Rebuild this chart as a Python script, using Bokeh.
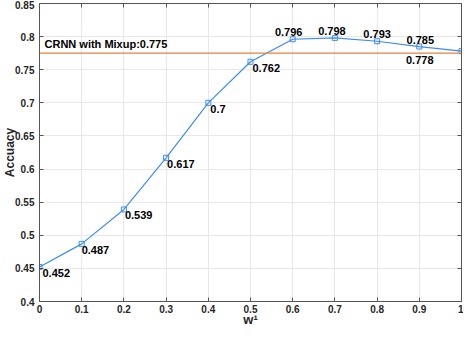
from bokeh.plotting import figure
from bokeh.models import (ColumnDataSource, LinearAxis, Range1d, FixedTicker, Span, Label,
                          CustomJSTickFormatter)
from bokeh.embed import file_html
from bokeh.resources import INLINE
from bokeh.core.properties import value

# ---- data ----
w_values = [0.0, 0.1, 0.2, 0.3, 0.4, 0.5, 0.6, 0.7, 0.8, 0.9, 1.0]
accuracy = [0.452, 0.487, 0.539, 0.617, 0.7, 0.762, 0.796, 0.798, 0.793, 0.785, 0.778]
baseline_value = 0.775
baseline_name = "CRNN with Mixup"
x_ticks = [0, 0.1, 0.2, 0.3, 0.4, 0.5, 0.6, 0.7, 0.8, 0.9, 1]
y_ticks = [0.4, 0.45, 0.5, 0.55, 0.6, 0.65, 0.7, 0.75, 0.8, 0.85]

# ---- label placement (style) ----
lab_align = ["left"] * 6 + ["center"] * 4 + ["right"]
lab_base = ["top"] * 6 + ["bottom"] * 4 + ["top"]
lab_dx = [3, 0, 1, 1, 2, 2, -4, -3, 0, 1, -28]
lab_dy = [2, 2, 2, 2, 2, 2, -3, -3, -3, -3, 5]

FONT = "Liberation Sans"
AX = "#262626"

p = figure(width=463, height=329, output_backend="svg", toolbar_location=None,
           x_range=Range1d(0, 1), y_range=Range1d(0.4, 0.85),
           min_border_left=31, min_border_right=2, min_border_top=3, min_border_bottom=20)
p.background_fill_color = "white"
p.border_fill_color = "white"
p.outline_line_color = None

for ax, ticks in ((p.xaxis[0], x_ticks), (p.yaxis[0], y_ticks)):
    ax.ticker = FixedTicker(ticks=ticks)
    ax.major_tick_out = 0
    ax.major_tick_in = 4
    ax.minor_tick_out = 0
    ax.minor_tick_in = 0
    ax.axis_line_color = "#555555"
    ax.major_tick_line_color = "#555555"
    ax.major_label_text_font = FONT
    ax.major_label_text_font_style = "bold"
    ax.major_label_text_font_size = "10px"
    ax.major_label_text_color = AX
    ax.axis_label_text_font = FONT
    ax.axis_label_text_font_style = "bold"
    ax.axis_label_text_color = AX

p.xaxis[0].major_label_overrides = {t: f"{t:g}" for t in x_ticks}
p.yaxis[0].major_label_overrides = {t: f"{t:g}" for t in y_ticks}
p.xaxis[0].major_label_standoff = 3
p.yaxis[0].major_label_standoff = 5
p.xaxis[0].axis_label = "w¹"
p.xaxis[0].axis_label_text_font_size = "13px"
p.xaxis[0].axis_label_standoff = -4
p.yaxis[0].axis_label = "Accuacy"
p.yaxis[0].axis_label_text_font_size = "12px"
p.yaxis[0].axis_label_standoff = -5

for loc, ticks in (("above", x_ticks), ("right", y_ticks)):
    a = LinearAxis(ticker=FixedTicker(ticks=ticks), major_tick_out=0, major_tick_in=4,
                   minor_tick_in=0, minor_tick_out=0,
                   formatter=CustomJSTickFormatter(code="return ''"),
                   major_label_standoff=0, axis_line_color="#555555",
                   major_tick_line_color="#555555")
    p.add_layout(a, loc)

p.xgrid.ticker = FixedTicker(ticks=x_ticks)
p.ygrid.ticker = FixedTicker(ticks=y_ticks)
p.xgrid.grid_line_color = "#e8e8e8"
p.ygrid.grid_line_color = "#e8e8e8"

# baseline
p.add_layout(Span(location=baseline_value, dimension="width", line_color="#E8823A", line_width=1.3))
p.add_layout(Label(x=w_values[0], y=baseline_value, x_offset=5, y_offset=3,
                   text=f"{baseline_name}:{baseline_value:g}", text_font=FONT,
                   text_font_style="bold", text_font_size="11px", text_color="black",
                   text_baseline="bottom"))

src = ColumnDataSource(dict(x=w_values, y=accuracy, t=[f"{v:g}" for v in accuracy],
                            al=lab_align, bl=lab_base, dx=lab_dx, dy=lab_dy))
p.line("x", "y", source=src, line_color="#3D8BF2", line_width=1.2)
p.scatter("x", "y", source=src, marker="square", size=5, fill_color=None,
          line_color="#3D8BF2", line_width=1)
p.text("x", "y", text="t", source=src, text_align="al", text_baseline="bl",
       x_offset="dx", y_offset="dy", text_font=value(FONT), text_font_style="bold",
       text_font_size="11px", text_color="black")

open("out.html", "w").write(file_html(p, INLINE))
